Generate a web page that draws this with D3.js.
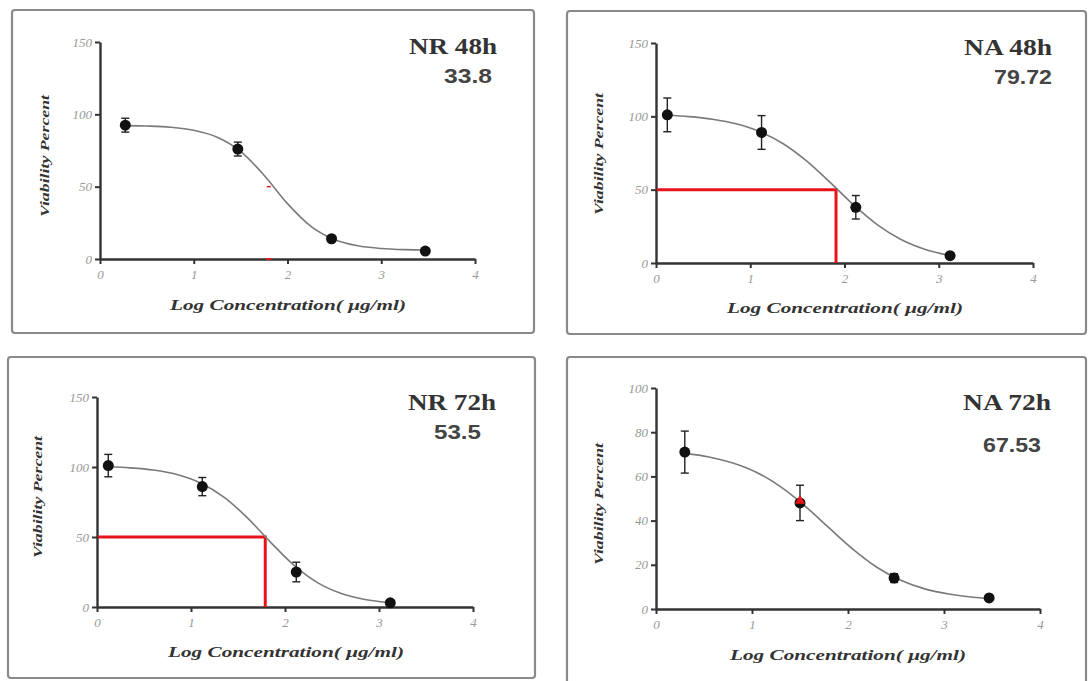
<!DOCTYPE html>
<html>
<head>
<meta charset="utf-8">
<script src="https://cdn.jsdelivr.net/npm/d3@7"></script>
<style>
  html, body { margin: 0; padding: 0; background: #fff; }
  svg { display: block; }
</style>
</head>
<body>
<svg id="chart" width="1089" height="681"></svg>
<script>
// ---------------- DATA ----------------
const titles = ["NR 48h", "NA 48h", "NR 72h", "NA 72h"];
const ic50Labels = ["33.8", "79.72", "53.5", "67.53"];
const xTicks = [0, 1, 2, 3, 4];
const yTicks150 = [0, 50, 100, 150];
const yTicks100 = [0, 20, 40, 60, 80, 100];
const xLabel = "Log Concentration( \u03bcg/ml)";
const yLabel = "Viability Percent";

// NR 48h
const nr48X = [0.27, 1.47, 2.47, 3.47];
const nr48Y = [92.5, 76, 14, 5.5];
const nr48Err = [4.8, 4.8, 1.5, 1.2];
const nr48CurveX = [0.27, 0.5, 0.75, 1.0, 1.25, 1.5, 1.75, 2.0, 2.25, 2.5, 2.75, 3.0, 3.25, 3.47];
const nr48CurveY = [92.2, 91.9, 91.1, 89.0, 84.2, 74.4, 57.9, 38.3, 22.6, 13.5, 9.1, 7.3, 6.5, 6.2];

// NA 48h
const na48X = [0.12, 1.12, 2.12, 3.12];
const na48Y = [101, 89, 38, 5];
const na48Err = [11.5, 11.5, 8, 1.2];
const na48CurveX = [0.12, 0.35, 0.6, 0.85, 1.1, 1.35, 1.6, 1.85, 2.1, 2.35, 2.6, 2.85, 3.12];
const na48CurveY = [100.7, 99.8, 98.0, 94.9, 89.6, 81.3, 69.4, 54.8, 39.4, 26.0, 16.0, 9.4, 5.1];
const na48LogIC50 = 1.91;

// NR 72h
const nr72X = [0.12, 1.12, 2.12, 3.12];
const nr72Y = [101, 86, 25, 3];
const nr72Err = [8, 6.5, 7, 1.2];
const nr72CurveX = [0.12, 0.35, 0.6, 0.85, 1.1, 1.35, 1.6, 1.85, 2.1, 2.35, 2.6, 2.85, 3.12];
const nr72CurveY = [100.2, 99.4, 97.8, 94.6, 88.6, 78.5, 63.7, 46.0, 29.5, 17.2, 9.6, 5.4, 3.1];
const nr72LogIC50 = 1.79;

// NA 72h
const na72X = [0.3, 1.5, 2.48, 3.47];
const na72Y = [71, 48, 14, 5];
const na72Err = [9.5, 8, 2, 0.8];
const na72CurveX = [0.3, 0.55, 0.8, 1.05, 1.3, 1.55, 1.8, 2.05, 2.3, 2.55, 2.8, 3.05, 3.3, 3.47];
const na72CurveY = [70.4, 68.8, 66.1, 61.8, 55.3, 46.7, 36.8, 27.1, 18.9, 13.0, 9.1, 6.8, 5.3, 4.7];

// ---------------- LAYOUT ----------------
const panels = [
  { title: titles[0], ic: ic50Labels[0], px: nr48X, py: nr48Y, err: nr48Err, cx: nr48CurveX, cy: nr48CurveY,
    yTicks: yTicks150, yMax: 150, ref: null, redMarks: true, redTri: false,
    box: [12, 10, 522, 323], xr: [100, 475], yr: [259, 42],
    tPos: [497, 54], iPos: [492, 83], tLen: 88, iLen: 48, ylPos: [45, 156], xlPos: [288, 310] },
  { title: titles[1], ic: ic50Labels[1], px: na48X, py: na48Y, err: na48Err, cx: na48CurveX, cy: na48CurveY,
    yTicks: yTicks150, yMax: 150, ref: na48LogIC50, redMarks: false, redTri: false,
    box: [567, 11, 519, 323], xr: [656, 1033], yr: [263, 43],
    tPos: [1052, 55], iPos: [1052, 84], tLen: 88, iLen: 58, ylPos: [599, 154], xlPos: [845, 313] },
  { title: titles[2], ic: ic50Labels[2], px: nr72X, py: nr72Y, err: nr72Err, cx: nr72CurveX, cy: nr72CurveY,
    yTicks: yTicks150, yMax: 150, ref: nr72LogIC50, redMarks: false, redTri: false,
    box: [8, 357, 527, 321], xr: [97, 473], yr: [607, 397],
    tPos: [496, 410], iPos: [481, 439], tLen: 88, iLen: 47, ylPos: [38, 497], xlPos: [286, 657] },
  { title: titles[3], ic: ic50Labels[3], px: na72X, py: na72Y, err: na72Err, cx: na72CurveX, cy: na72CurveY,
    yTicks: yTicks100, yMax: 100, ref: null, redMarks: false, redTri: true,
    box: [567, 357, 519, 330], xr: [656, 1040], yr: [609, 388],
    tPos: [1051, 410], iPos: [1041, 452], tLen: 88, iLen: 58, ylPos: [599, 504], xlPos: [848, 660] }
];

const svg = d3.select("#chart");
const serif = "'Liberation Serif', 'Times New Roman', serif";
const sans = "'Liberation Sans', Arial, sans-serif";

panels.forEach(p => {
  const g = svg.append("g");
  // frame
  g.append("rect")
    .attr("x", p.box[0]).attr("y", p.box[1])
    .attr("width", p.box[2]).attr("height", p.box[3])
    .attr("rx", 3)
    .attr("fill", "#fff").attr("stroke", "#8a8a8a").attr("stroke-width", 2.2);

  const x = d3.scaleLinear().domain([0, 4]).range(p.xr);
  const y = d3.scaleLinear().domain([0, p.yMax]).range(p.yr);

  // y axis
  const ya = g.append("g").attr("transform", `translate(${p.xr[0]},0)`)
    .call(d3.axisLeft(y).tickValues(p.yTicks).tickFormat(d3.format("d"))
      .tickSize(5).tickSizeOuter(0).tickPadding(3));
  ya.select(".domain").attr("stroke", "#333").attr("stroke-width", 2.4);
  ya.selectAll(".tick line").attr("stroke", "#333").attr("stroke-width", 2);
  ya.selectAll(".tick text").attr("fill", "#999")
    .attr("font-family", serif).attr("font-style", "italic").attr("font-size", 13);

  // x axis
  const xa = g.append("g").attr("transform", `translate(0,${p.yr[0]})`)
    .call(d3.axisBottom(x).tickValues(xTicks).tickFormat(d3.format("d"))
      .tickSize(5).tickSizeOuter(0).tickPadding(6));
  xa.select(".domain").attr("stroke", "#333").attr("stroke-width", 2.4);
  xa.selectAll(".tick line").attr("stroke", "#333").attr("stroke-width", 2);
  xa.selectAll(".tick text").attr("fill", "#999")
    .attr("font-family", serif).attr("font-style", "italic").attr("font-size", 13);

  // axis titles
  g.append("text")
    .attr("transform", `translate(${p.ylPos[0]},${p.ylPos[1]}) rotate(-90)`)
    .attr("text-anchor", "middle").attr("dy", "0.35em")
    .attr("font-family", serif).attr("font-style", "italic").attr("font-weight", "bold")
    .attr("font-size", 12).attr("fill", "#333")
    .attr("textLength", 122).attr("lengthAdjust", "spacingAndGlyphs")
    .text(yLabel);
  g.append("text")
    .attr("x", p.xlPos[0]).attr("y", p.xlPos[1])
    .attr("text-anchor", "middle")
    .attr("font-family", serif).attr("font-style", "italic").attr("font-weight", "bold")
    .attr("font-size", 14).attr("fill", "#333")
    .attr("textLength", 236).attr("lengthAdjust", "spacingAndGlyphs")
    .text(xLabel);

  // red IC50 guide
  if (p.ref !== null) {
    g.append("path")
      .attr("d", d3.line()([[x(0) + 1, y(50)], [x(p.ref), y(50)], [x(p.ref), y(0)]]))
      .attr("fill", "none").attr("stroke", "#e8141c").attr("stroke-width", 3);
  }
  if (p.redMarks) {
    g.append("line").attr("x1", x(1.8) - 2).attr("x2", x(1.8) + 2)
      .attr("y1", y(50)).attr("y2", y(50)).attr("stroke", "#e8141c").attr("stroke-width", 1.5);
    g.append("line").attr("x1", x(1.8) - 2.5).attr("x2", x(1.8) + 2.5)
      .attr("y1", y(0)).attr("y2", y(0)).attr("stroke", "#e8141c").attr("stroke-width", 2);
  }

  // fitted curve
  const curvePts = p.cx.map((v, i) => [x(v), y(p.cy[i])]);
  g.append("path")
    .attr("d", d3.line().curve(d3.curveMonotoneX)(curvePts))
    .attr("fill", "none").attr("stroke", "#7a7a7a").attr("stroke-width", 1.6);

  // error bars
  const pts = p.px.map((v, i) => ({ x: v, y: p.py[i], e: p.err[i] }));
  const eb = g.append("g").attr("stroke", "#222").attr("stroke-width", 1.4);
  pts.forEach(d => {
    eb.append("line").attr("x1", x(d.x)).attr("x2", x(d.x)).attr("y1", y(d.y - d.e)).attr("y2", y(d.y + d.e));
    eb.append("line").attr("x1", x(d.x) - 4).attr("x2", x(d.x) + 4).attr("y1", y(d.y + d.e)).attr("y2", y(d.y + d.e));
    eb.append("line").attr("x1", x(d.x) - 4).attr("x2", x(d.x) + 4).attr("y1", y(d.y - d.e)).attr("y2", y(d.y - d.e));
  });

  // points
  g.selectAll("circle.pt").data(pts).enter().append("circle")
    .attr("class", "pt")
    .attr("cx", d => x(d.x)).attr("cy", d => y(d.y)).attr("r", 5.5)
    .attr("fill", "#111");

  if (p.redTri) {
    const d = pts[1];
    g.append("path")
      .attr("transform", `translate(${x(d.x)},${y(d.y) - 2})`)
      .attr("d", d3.symbol().type(d3.symbolTriangle).size(45)())
      .attr("fill", "#e8141c");
  }

  // title and IC50 value
  g.append("text")
    .attr("x", p.tPos[0]).attr("y", p.tPos[1]).attr("text-anchor", "end")
    .attr("font-family", serif).attr("font-weight", "bold").attr("font-size", 24)
    .attr("fill", "#333")
    .attr("textLength", p.tLen).attr("lengthAdjust", "spacingAndGlyphs")
    .text(p.title);
  g.append("text")
    .attr("x", p.iPos[0]).attr("y", p.iPos[1]).attr("text-anchor", "end")
    .attr("font-family", sans).attr("font-weight", "bold").attr("font-size", 20)
    .attr("fill", "#444")
    .attr("textLength", p.iLen).attr("lengthAdjust", "spacingAndGlyphs")
    .text(p.ic);
});
</script>
</body>
</html>
